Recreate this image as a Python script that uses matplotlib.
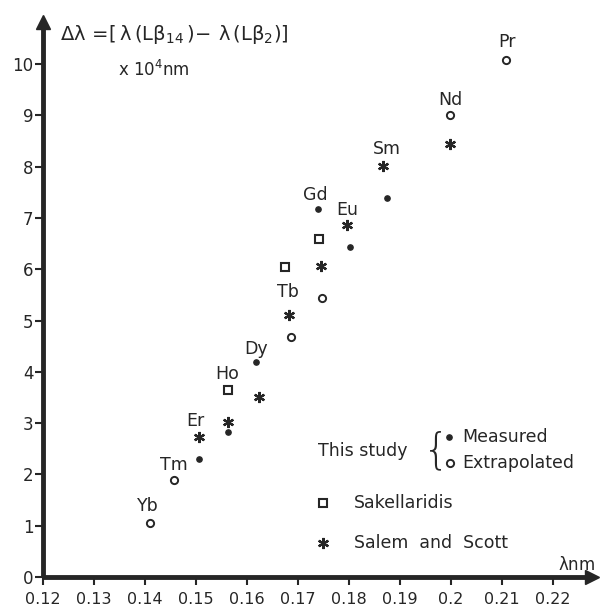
import matplotlib
matplotlib.use("Agg")
import matplotlib.pyplot as plt

# --- data ---
measured_x = [0.1506, 0.1562, 0.1618, 0.1739, 0.1802, 0.1874]
measured_y = [2.30, 2.83, 4.20, 7.17, 6.43, 7.38]

extrap_x = [0.1410, 0.1457, 0.1686, 0.1748, 0.1999, 0.2107]
extrap_y = [1.06, 1.89, 4.68, 5.43, 9.01, 10.08]

sakel_x = [0.1563, 0.1675, 0.1742]
sakel_y = [3.65, 6.04, 6.59]

salem_x = [0.1505, 0.1562, 0.1624, 0.1682, 0.1745, 0.1797, 0.1867, 0.1999]
salem_y = [2.72, 3.02, 3.51, 5.11, 6.06, 6.86, 8.01, 8.44]

elements = ['Yb', 'Tm', 'Er', 'Ho', 'Dy', 'Tb', 'Gd', 'Eu', 'Sm', 'Nd', 'Pr']
elem_x = [0.1406, 0.1456, 0.1498, 0.1561, 0.1618, 0.1680, 0.1733, 0.1796, 0.1874, 0.1998, 0.2110]
elem_y = [1.38, 2.18, 3.05, 3.96, 4.44, 5.56, 7.45, 7.15, 8.34, 9.30, 10.43]

x_ticks = [0.12, 0.13, 0.14, 0.15, 0.16, 0.17, 0.18, 0.19, 0.2, 0.21, 0.22]
x_labels = ['0.12', '0.13', '0.14', '0.15', '0.16', '0.17', '0.18', '0.19', '0.2', '0.21', '0.22']
y_ticks = list(range(0, 11))

INK = '#262626'
W, H = 605, 612

plt.rcParams['font.family'] = ['DejaVu Sans']
plt.rcParams['mathtext.fontset'] = 'dejavusans'
plt.rcParams['mathtext.default'] = 'regular'

fig = plt.figure(figsize=(W / 100, H / 100), dpi=100)


def fx(px):
    return px / W


def fy(py):
    return 1 - py / H


# axes box in pixels: left 43, right 592, top 22, bottom 577
ax = fig.add_axes([fx(43), fy(577), fx(592 - 43), (577 - 22) / H])
ax.set_xlim(0.12, 0.12 + (592 - 43) / 5100)
ax.set_ylim(0, (577 - 22) / 51.3)

for s in ['top', 'right']:
    ax.spines[s].set_visible(False)
for s in ['left', 'bottom']:
    ax.spines[s].set_linewidth(3.5)
    ax.spines[s].set_color(INK)
    ax.spines[s].set_capstyle('butt')

ax.set_xticks(x_ticks)
ax.set_xticklabels(x_labels)
ax.set_yticks(y_ticks)
ax.tick_params(axis='x', direction='out', length=6, width=1.5, pad=5,
               labelsize=11.5, colors=INK)
ax.tick_params(axis='y', direction='out', length=6, width=1.5, pad=1,
               labelsize=12, colors=INK)

# arrow heads
ax.plot(1, 0, '>', transform=ax.transAxes, clip_on=False, ms=10, color=INK)
ax.plot(0, 1, '^', transform=ax.transAxes, clip_on=False, ms=10, color=INK)

star = (6, 2, 0)
ax.plot(measured_x, measured_y, 'o', ms=3.8, color=INK, ls='none')
ax.plot(extrap_x, extrap_y, 'o', ms=5.2, mfc='white', mec=INK, mew=1.4, ls='none')
ax.plot(sakel_x, sakel_y, 's', ms=6, mfc='white', mec=INK, mew=1.5, ls='none')
ax.plot(salem_x, salem_y, marker=star, ms=8, mec=INK, mew=1.6, ls='none')

for name, x, y in zip(elements, elem_x, elem_y):
    ax.text(x, y, name, ha='center', va='center', fontsize=12.5, color=INK)

# y axis caption
fig.text(fx(60), fy(35),
         r'$\Delta\lambda\,=\!\left[\,\lambda\,(L\beta_{14}\,)\!-\,\lambda\,(L\beta_2)\right]$',
         ha='left', va='center', fontsize=14, color=INK)
fig.text(fx(118), fy(70), r'x 10$^4$nm', ha='left', va='center',
         fontsize=12, color=INK)
fig.text(fx(577), fy(565), r'$\lambda$nm', ha='center', va='center',
         fontsize=12, color=INK)

# hand-made legend
fig.text(fx(318), fy(451), 'This study', ha='left', va='center',
         fontsize=12.5, color=INK)
fig.text(fx(436), fy(451), '{', ha='center', va='center', fontsize=30,
         color=INK, fontweight='light')
fig.lines.append(plt.Line2D([fx(449)], [fy(437)], marker='o', ms=3.8,
                            color=INK, transform=fig.transFigure))
fig.text(fx(462), fy(437), 'Measured', ha='left', va='center',
         fontsize=12.5, color=INK)
fig.lines.append(plt.Line2D([fx(450)], [fy(463)], marker='o', ms=5.2, mfc='white',
                            mec=INK, mew=1.4, transform=fig.transFigure))
fig.text(fx(462), fy(463), 'Extrapolated', ha='left', va='center',
         fontsize=12.5, color=INK)
fig.lines.append(plt.Line2D([fx(323)], [fy(503)], marker='s', ms=6, mfc='white',
                            mec=INK, mew=1.5, transform=fig.transFigure))
fig.text(fx(354), fy(503), 'Sakellaridis', ha='left', va='center',
         fontsize=12.5, color=INK)
fig.lines.append(plt.Line2D([fx(323)], [fy(543)], marker=star, ms=8,
                            mec=INK, mew=1.6, transform=fig.transFigure))
fig.text(fx(354), fy(543), 'Salem  and  Scott', ha='left', va='center',
         fontsize=12.5, color=INK)

fig.savefig('out.png', dpi=100, facecolor='white')
